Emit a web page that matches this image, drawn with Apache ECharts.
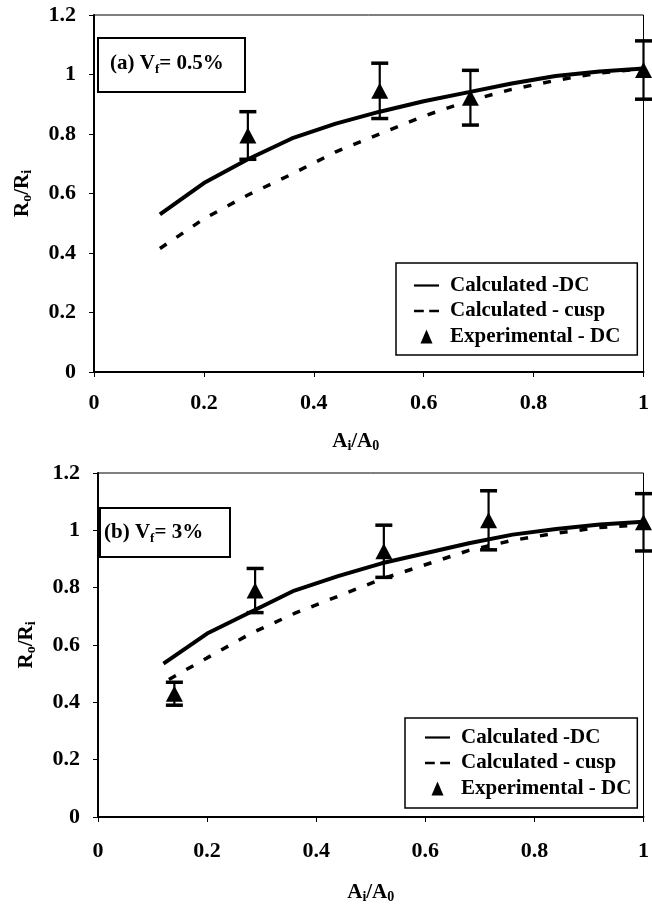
<!DOCTYPE html>
<html><head><meta charset="utf-8">
<script src="https://cdn.jsdelivr.net/npm/echarts@6/dist/echarts.min.js"></script>
<style>html,body{margin:0;padding:0;background:#fff}#c{width:652px;height:905px}</style>
</head><body><div id="c"></div>
<script>
// ---- data ----
const xTicks = [0, 0.2, 0.4, 0.6, 0.8, 1];
const yTicks = [0, 0.2, 0.4, 0.6, 0.8, 1, 1.2];
const legendNames = ['Calculated -DC', 'Calculated - cusp', 'Experimental - DC'];

// panel (a) Vf = 0.5%
const xCalcA = [0.12, 0.2, 0.28, 0.36, 0.44, 0.52, 0.6, 0.68, 0.76, 0.84, 0.92, 1.0];
const dcA    = [0.53, 0.635, 0.715, 0.785, 0.835, 0.875, 0.91, 0.94, 0.97, 0.995, 1.01, 1.02];
const cuspA  = [0.415, 0.515, 0.595, 0.665, 0.74, 0.80, 0.86, 0.91, 0.95, 0.98, 1.005, 1.02];
const xExpA  = [0.28, 0.52, 0.685, 1.0];
const expA   = [0.795, 0.945, 0.922, 1.015];
const errA   = [0.08, 0.093, 0.092, 0.098];

// panel (b) Vf = 3%
const xCalcB = [0.12, 0.2, 0.28, 0.36, 0.44, 0.52, 0.6, 0.68, 0.76, 0.84, 0.92, 1.0];
const dcB    = [0.535, 0.64, 0.715, 0.79, 0.84, 0.885, 0.92, 0.955, 0.985, 1.005, 1.02, 1.03];
const xCuspB = [0.13, 0.2, 0.28, 0.36, 0.44, 0.52, 0.6, 0.68, 0.76, 0.84, 0.92, 1.0];
const cuspB  = [0.48, 0.555, 0.64, 0.71, 0.77, 0.83, 0.88, 0.93, 0.965, 0.99, 1.01, 1.02];
const xExpB  = [0.14, 0.288, 0.524, 0.716, 1.0];
const expB   = [0.43, 0.79, 0.927, 1.035, 1.028];
const errB   = [0.04, 0.077, 0.091, 0.103, 0.10];

// ---- build ----
const FONT = 'Liberation Serif';
const zip = (xs, ys) => xs.map((x, i) => [x, ys[i]]);
const errData = (xs, ys, es) => xs.map((x, i) => [x, ys[i] - es[i], ys[i] + es[i]]);

function errRender(params, api) {
  const x = api.value(0), lo = api.value(1), hi = api.value(2);
  const pLo = api.coord([x, lo]), pHi = api.coord([x, hi]);
  const w = 8.5;
  const st = {stroke: '#000', lineWidth: 3.5};
  return {type: 'group', children: [
    {type: 'line', shape: {x1: pLo[0], y1: pLo[1], x2: pHi[0], y2: pHi[1]}, style: {stroke: '#000', lineWidth: 2.2}},
    {type: 'line', shape: {x1: pLo[0] - w, y1: pLo[1], x2: pLo[0] + w, y2: pLo[1]}, style: st},
    {type: 'line', shape: {x1: pHi[0] - w, y1: pHi[1], x2: pHi[0] + w, y2: pHi[1]}, style: st}
  ]};
}

const subRich = {
  n: {fontFamily: FONT, fontWeight: 'bold', fontSize: 21, color: '#000'},
  s: {fontFamily: FONT, fontWeight: 'bold', fontSize: 14, color: '#000', verticalAlign: 'bottom', padding: [9, 0, 0, 0]}
};

function xAxisOpt(idx, nameGap, namePad, margin) {
  return {
    type: 'value', gridIndex: idx, min: 0, max: 1, interval: 0.2,
    name: '{n|A}{s|i}{n|/A}{s|0}', nameLocation: 'middle', nameGap: nameGap,
    nameTextStyle: {rich: subRich, padding: namePad},
    axisLine: {onZero: false, lineStyle: {color: '#000', width: 2}},
    axisTick: {show: true, length: 5, lineStyle: {color: '#000', width: 1}},
    axisLabel: {color: '#000', fontFamily: FONT, fontWeight: 'bold', fontSize: 22, margin: margin,
      formatter: v => xTicks.includes(+v.toFixed(1)) ? String(+v.toFixed(1)) : ''},
    splitLine: {show: false}
  };
}
function yAxisOpt(idx) {
  return {
    type: 'value', gridIndex: idx, min: 0, max: 1.2, interval: 0.2,
    name: '{n|R}{s|o}{n|/R}{s|i}', nameLocation: 'middle', nameGap: 60, nameRotate: 90,
    nameTextStyle: {rich: subRich},
    axisLine: {lineStyle: {color: '#000', width: 2}},
    axisTick: {show: true, length: 5, lineStyle: {color: '#000', width: 1}},
    axisLabel: {color: '#000', fontFamily: FONT, fontWeight: 'bold', fontSize: 22, margin: 18,
      formatter: v => yTicks.includes(+v.toFixed(1)) ? String(+v.toFixed(1)) : ''},
    splitLine: {show: false}
  };
}

function seriesFor(idx, xDc, dc, xCu, cu, xE, e, er) {
  return [
    {name: legendNames[0], type: 'line', xAxisIndex: idx, yAxisIndex: idx, data: zip(xDc, dc),
      symbol: 'none', lineStyle: {color: '#000', width: 4}, itemStyle: {color: '#000'}, z: 3, silent: true},
    {name: legendNames[1], type: 'line', xAxisIndex: idx, yAxisIndex: idx, data: zip(xCu, cu),
      symbol: 'none', lineStyle: {color: '#000', width: 3.5, type: [8, 12]}, itemStyle: {color: '#000'}, z: 2, silent: true},
    {name: legendNames[2], type: 'scatter', xAxisIndex: idx, yAxisIndex: idx, data: zip(xE, e),
      symbol: 'triangle', symbolSize: [17, 16], itemStyle: {color: '#000', opacity: 1}, z: 5, silent: true},
    {name: 'err' + idx, type: 'custom', xAxisIndex: idx, yAxisIndex: idx, data: errData(xE, e, er),
      renderItem: errRender, encode: {x: 0, y: [1, 2]}, z: 4, silent: true}
  ];
}

function legendOpt(left, top, padding) {
  return {
    left: left, top: top, orient: 'vertical', selectedMode: false,
    backgroundColor: '#fff', borderColor: '#000', borderWidth: 1.5, padding: padding,
    itemWidth: 25, itemHeight: 14, itemGap: 4.5,
    textStyle: {fontFamily: FONT, fontWeight: 'bold', fontSize: 21, color: '#000', lineHeight: 20, padding: [0, 0, 0, 6]},
    data: [
      {name: legendNames[0], icon: 'path://M0,0L25,0L25,2.2L0,2.2Z', itemStyle: {color: '#000', opacity: 1}},
      {name: legendNames[1], icon: 'path://M0,0L9,0L9,2.2L0,2.2ZM14,0L23,0L23,2.2L14,2.2Z', itemStyle: {color: '#000', opacity: 1}},
      {name: legendNames[2], icon: 'path://M6,0L12,14L0,14Z', itemStyle: {color: '#000', opacity: 1}}
    ]
  };
}

function labelBox(x, y, w, h, tx, ty, txt) {
  return {type: 'group', children: [
    {type: 'rect', shape: {x: x, y: y, width: w, height: h}, style: {fill: '#fff', stroke: '#000', lineWidth: 2}, z: 10},
    {type: 'text', x: tx, y: ty, z: 11, style: {text: txt, textVerticalAlign: 'middle', rich: {
      n: {fontFamily: FONT, fontWeight: 'bold', fontSize: 21, color: '#000'},
      s: {fontFamily: FONT, fontWeight: 'bold', fontSize: 13, color: '#000', padding: [11, 0, 0, 0]}
    }}}
  ]};
}

const option = {
  animation: false,
  backgroundColor: '#fff',
  grid: [
    {left: 94, top: 15, width: 550, height: 357, show: true, borderColor: '#000', borderWidth: 1, backgroundColor: 'transparent'},
    {left: 98, top: 473, width: 546, height: 350, show: true, borderColor: '#000', borderWidth: 1, backgroundColor: 'transparent'}
  ],
  xAxis: [xAxisOpt(0, 58, [0, 26, 0, 0], 20), xAxisOpt(1, 64, [0, 0, 0, 0], 23)],
  yAxis: [yAxisOpt(0), yAxisOpt(1)],
  legend: [legendOpt(396, 263, [12, 17, 8, 18]), legendOpt(405, 718, [9, 6, 9, 20])],
  series: [].concat(
    seriesFor(0, xCalcA, dcA, xCalcA, cuspA, xExpA, expA, errA),
    seriesFor(1, xCalcB, dcB, xCuspB, cuspB, xExpB, expB, errB)
  ),
  graphic: [
    labelBox(98, 38, 147, 54, 110, 64, '{n|(a) V}{s|f}{n|= 0.5%}'),
    labelBox(100, 508, 130, 49, 104, 533, '{n|(b) V}{s|f}{n|= 3%}')
  ]
};
const chart = echarts.init(document.getElementById('c'), null, {renderer: 'canvas'});
chart.setOption(option);
</script></body></html>
